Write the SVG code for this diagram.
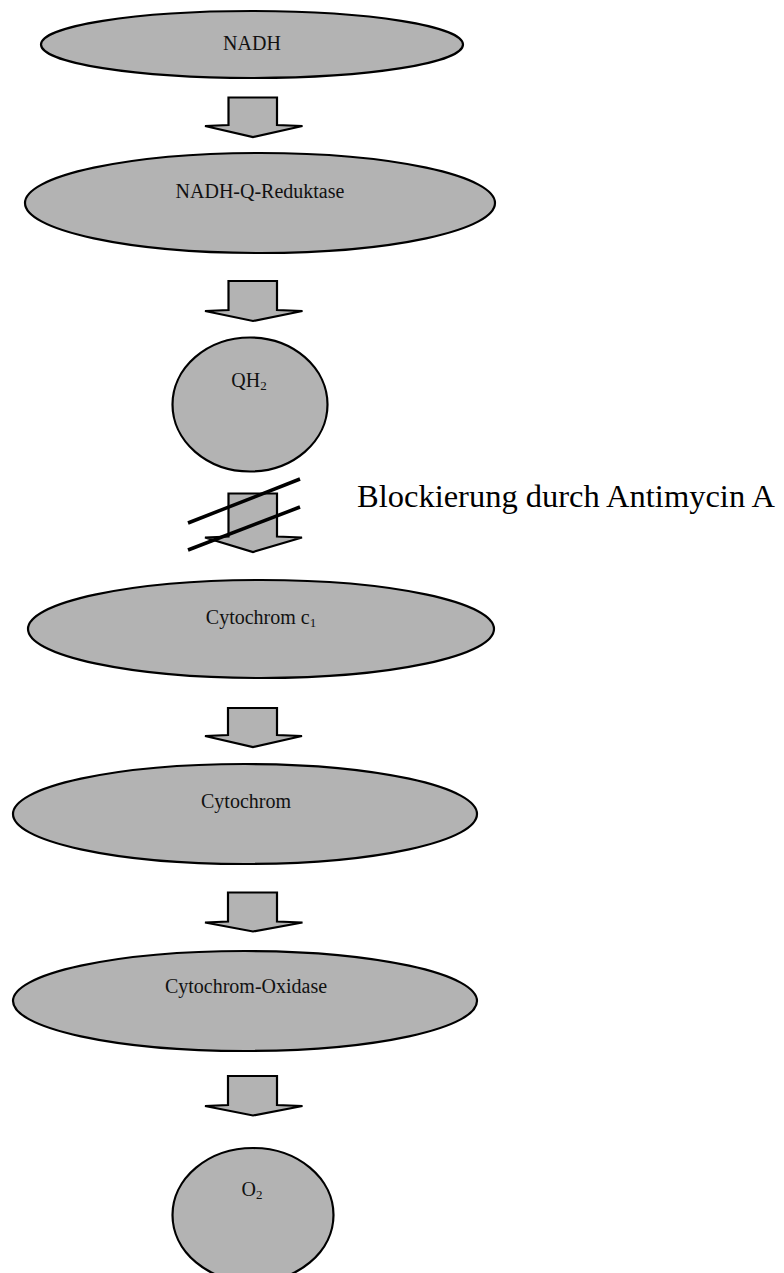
<svg xmlns="http://www.w3.org/2000/svg" width="784" height="1273" viewBox="0 0 784 1273">
<style>
.n{fill:#b3b3b3;stroke:#000;stroke-width:2.2}
.a{fill:#b3b3b3;stroke:#000;stroke-width:2.2;stroke-linejoin:miter}
.t{font-family:"Liberation Serif","Times New Roman",serif;font-size:20px;fill:#111;text-anchor:middle}
.s{font-size:13px}
.b{font-family:"Liberation Serif","Times New Roman",serif;font-size:32.5px;fill:#000}
.x{stroke:#000;stroke-width:3.5;fill:none}
</style>
<rect width="784" height="1273" fill="#fff"/>
<g id="connectors">
<path class="a" d="M228.5,97.5 H277 V125 L302.5,126 L253,137 L205,126 L228.5,125 Z"/>
<path class="a" d="M228.5,281 H277 V310 L302.5,311 L253,321 L205,311 L228.5,310 Z"/>
<path class="a" d="M228.5,493.5 H277 V536.5 L302,537.5 L253,552 L205,537.5 L228.5,536.5 Z"/>
<line class="x" x1="188" y1="523" x2="300" y2="479"/>
<line class="x" x1="188" y1="550" x2="300" y2="507"/>
<path class="a" d="M228,708 H277 V735 L302,736 L253,747 L205,736 L228,735 Z"/>
<path class="a" d="M228,892.5 H277 V921.5 L302.5,922.5 L253,931.5 L205,922.5 L228,921.5 Z"/>
<path class="a" d="M228,1076 H277 V1105 L302.5,1106 L253,1115.5 L205,1106 L228,1105 Z"/>
</g>
<g id="nadh"><ellipse class="n" cx="252" cy="44.5" rx="211" ry="33.5"/><text class="t" x="252" y="50">NADH</text></g>
<g id="nadh-q-reduktase"><ellipse class="n" cx="260" cy="203" rx="235" ry="50"/><text class="t" x="260" y="198">NADH-Q-Reduktase</text></g>
<g id="qh2"><ellipse class="n" cx="250" cy="404.5" rx="77.5" ry="67"/><text class="t" x="249" y="387">QH<tspan class="s" dy="3">2</tspan></text></g>
<g id="blockierung"><text class="b" x="357" y="507">Blockierung durch Antimycin A</text></g>
<g id="cytochrom-c1"><ellipse class="n" cx="261" cy="629" rx="233" ry="49"/><text class="t" x="261" y="624">Cytochrom c<tspan class="s" dy="3">1</tspan></text></g>
<g id="cytochrom"><ellipse class="n" cx="245" cy="814" rx="232" ry="50"/><text class="t" x="246" y="808">Cytochrom</text></g>
<g id="cytochrom-oxidase"><ellipse class="n" cx="245" cy="1001" rx="232" ry="50"/><text class="t" x="246" y="993">Cytochrom-Oxidase</text></g>
<g id="o2"><ellipse class="n" cx="253" cy="1215" rx="80.5" ry="67"/><text class="t" x="252" y="1196">O<tspan class="s" dy="3">2</tspan></text></g>
</svg>
